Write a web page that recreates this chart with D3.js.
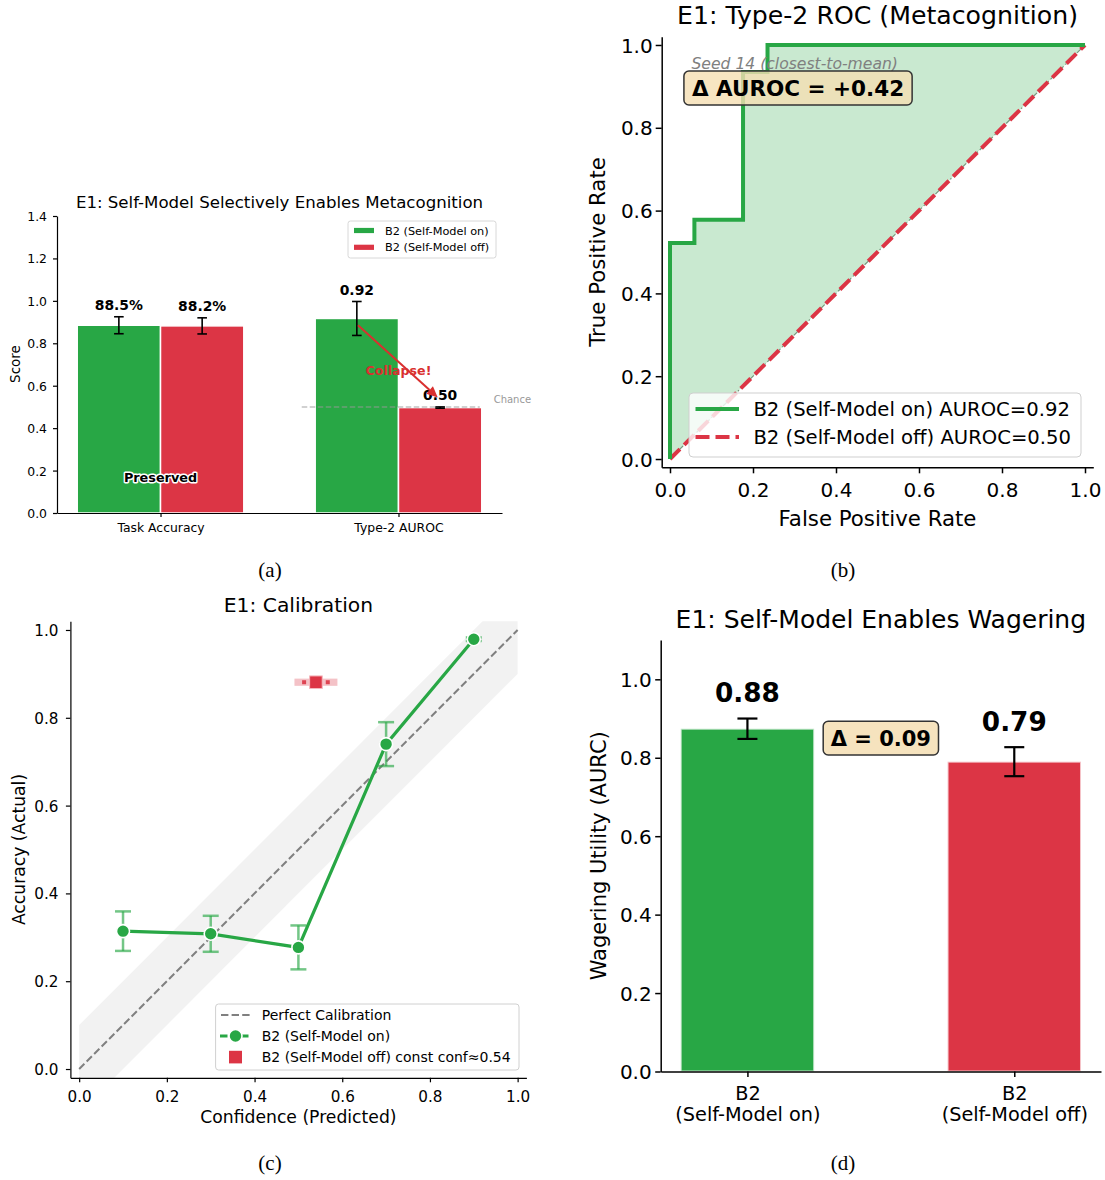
<!DOCTYPE html>
<html><head><meta charset="utf-8">
<script src="https://cdn.jsdelivr.net/npm/d3@7/dist/d3.min.js"></script>
<style>body{margin:0;background:#fff}svg{display:block}</style>
</head><body>
<svg id="fig" width="1105" height="1180"></svg>
<script>
// ---------------- DATA ----------------
// (a) Task accuracy / Type-2 AUROC
const categoriesA = ["Task Accuracy", "Type-2 AUROC"];
const seriesNames = ["B2 (Self-Model on)", "B2 (Self-Model off)"];
const valuesOnA  = [0.885, 0.917];
const errorsOnA  = [0.040, 0.080];
const labelsOnA  = ["88.5%", "0.92"];
const valuesOffA = [0.882, 0.497];
const errorsOffA = [0.038, 0.003];
const labelsOffA = ["88.2%", "0.50"];
const yTicksA = [0, 0.2, 0.4, 0.6, 0.8, 1.0, 1.2, 1.4];
const chanceLevel = 0.5;

// (b) Type-2 ROC
const rocOnFpr  = [0, 0, 0.0588, 0.0588, 0.176, 0.176, 0.235, 0.235, 1.0];
const rocOnTpr  = [0, 0.522, 0.522, 0.578, 0.578, 0.935, 0.935, 1.0, 1.0];
const rocOffFpr = [0, 1];
const rocOffTpr = [0, 1];
const rocLegend = ["B2 (Self-Model on) AUROC=0.92", "B2 (Self-Model off) AUROC=0.50"];
const rocDeltaLabel = "\u0394 AUROC = +0.42";
const ticks01 = [0, 0.2, 0.4, 0.6, 0.8, 1.0];

// (c) Calibration
const calConf = [0.1, 0.3, 0.5, 0.7, 0.9];
const calAcc  = [0.314, 0.308, 0.277, 0.740, 0.979];
const calErr  = [0.045, 0.041, 0.050, 0.050, 0.004];
const offConf = [0.54];
const offAcc  = [0.881];
const offConfErr = [0.049];
const calBand = 0.1;
const calLegend = ["Perfect Calibration", "B2 (Self-Model on)", "B2 (Self-Model off) const conf\u22480.54"];

// (d) Wagering
const categoriesD = [["B2", "(Self-Model on)"], ["B2", "(Self-Model off)"]];
const valuesD = [0.874, 0.790];
const errorsD = [0.026, 0.037];
const labelsD = ["0.88", "0.79"];
const deltaLabelD = "\u0394 = 0.09";
const yTicksD = [0, 0.2, 0.4, 0.6, 0.8, 1.0];

// ---------------- HELPERS ----------------
const GREEN = "#28a745", RED = "#dc3545";
const FONT = "'DejaVu Sans', sans-serif";
const svg = d3.select("#fig");

function addText(g, o) {
  const t = g.append("text")
    .attr("x", o.x).attr("y", o.y)
    .attr("font-family", o.family || FONT)
    .attr("font-size", o.fs)
    .attr("text-anchor", o.anchor || "middle")
    .attr("fill", o.fill || "#000")
    .text(o.text);
  if (o.weight) t.attr("font-weight", o.weight);
  if (o.style) t.attr("font-style", o.style);
  if (o.rotate) t.attr("transform", `rotate(-90 ${o.x} ${o.y})`);
  return t;
}
function styleAxis(sel, fs, lw) {
  sel.attr("font-family", FONT).attr("font-size", fs);
  sel.select(".domain").attr("stroke", "#000").attr("stroke-width", lw);
  sel.selectAll(".tick line").attr("stroke", "#000").attr("stroke-width", lw);
  sel.selectAll(".tick text").attr("fill", "#000");
}
function yAxis(g, scale, x0, ticks, fs, ts, gap, lw) {
  const a = g.append("g").attr("transform", `translate(${x0},0)`)
    .call(d3.axisLeft(scale).tickValues(ticks).tickFormat(d3.format(".1f"))
      .tickSize(ts).tickPadding(gap - ts).tickSizeOuter(0));
  styleAxis(a, fs, lw);
  a.selectAll(".tick text").attr("dy", "0.36em");
  return a;
}
function xAxis(g, scale, y0, ticks, fmt, fs, ts, base, lw) {
  const a = g.append("g").attr("transform", `translate(0,${y0})`)
    .call(d3.axisBottom(scale).tickValues(ticks).tickFormat(fmt).tickSize(ts).tickSizeOuter(0));
  styleAxis(a, fs, lw);
  a.selectAll(".tick text").attr("y", base).attr("dy", 0);
  return a;
}
function errV(g, x, y0, y1, cap, color, lw, op) {
  const e = g.append("g").attr("stroke", color).attr("stroke-width", lw).attr("stroke-opacity", op == null ? 1 : op);
  e.append("line").attr("x1", x).attr("x2", x).attr("y1", y0).attr("y2", y1);
  e.append("line").attr("x1", x - cap).attr("x2", x + cap).attr("y1", y0).attr("y2", y0);
  e.append("line").attr("x1", x - cap).attr("x2", x + cap).attr("y1", y1).attr("y2", y1);
}
function fracScale(s) { return d3.scaleLinear().domain([0, 1]).range(s.range()); }

// ---------------- PANEL (a) ----------------
{
  const g = svg.append("g");
  const x = d3.scaleLinear().domain([-0.435, 1.435]).range([57, 502]);
  const y = d3.scaleLinear().domain([0, 1.4]).range([513, 216]);
  const fx = fracScale(x);
  const bw = 0.35;
  const ser = [
    {vals: valuesOnA, errs: errorsOnA, labs: labelsOnA, color: GREEN, off: -bw / 2},
    {vals: valuesOffA, errs: errorsOffA, labs: labelsOffA, color: RED, off: bw / 2}
  ];
  ser.forEach(s => {
    g.selectAll(null).data(s.vals).join("rect")
      .attr("x", (d, i) => x(i + s.off - bw / 2))
      .attr("width", x(bw) - x(0))
      .attr("y", d => y(d)).attr("height", d => y(0) - y(d))
      .attr("fill", s.color).attr("stroke", "#fff").attr("stroke-width", 1.5);
  });
  // chance line
  g.append("line").attr("x1", fx(0.55)).attr("x2", fx(0.95))
    .attr("y1", y(chanceLevel)).attr("y2", y(chanceLevel))
    .attr("stroke", "#9a9a9a").attr("stroke-opacity", 0.6).attr("stroke-width", 1.5).attr("stroke-dasharray", "5.5,2.5");
  addText(g, {x: x(1.4), y: y(0.536) + 3.6, text: "Chance", fs: 10, anchor: "start", fill: "#999"});
  ser.forEach(s => {
    s.vals.forEach((v, i) => {
      errV(g, x(i + s.off), y(v + s.errs[i]), y(v - s.errs[i]), 4.8, "#000", 1.6);
      addText(g, {x: x(i + s.off), y: y(v + s.errs[i] + 0.031), text: s.labs[i], fs: 13.9, weight: "bold"});
    });
  });
  // axes
  yAxis(g, y, 57, yTicksA, 12.4, 4, 10, 1.2);
  xAxis(g, x, 513, [0, 1], (d, i) => categoriesA[i], 12.4, 4, 18.5, 1.2);
  addText(g, {x: 20, y: 364, text: "Score", fs: 13.5, rotate: true});
  addText(g, {x: fx(0.5), y: 208, text: "E1: Self-Model Selectively Enables Metacognition", fs: 16.6});
  // annotations
  addText(g, {x: x(0), y: y(0.17) + 4.6, text: "Preserved", fs: 12.8, weight: "bold"})
    .attr("stroke", "#fff").attr("stroke-width", 3).attr("paint-order", "stroke").attr("stroke-linejoin", "round");
  addText(g, {x: x(1.0), y: y(0.671) + 4.5, text: "Collapse!", fs: 12.6, weight: "bold", fill: "#d9302f"});
  {
    const x1 = x(0.83), y1 = y(0.885), x2 = x(1.165), y2 = y(0.545);
    const ang = Math.atan2(y2 - y1, x2 - x1), L = 11, W = 5;
    const bx = x2 - L * Math.cos(ang), by = y2 - L * Math.sin(ang);
    g.append("line").attr("x1", x1).attr("y1", y1).attr("x2", bx).attr("y2", by)
      .attr("stroke", "#d9302f").attr("stroke-width", 2);
    g.append("path").attr("d", `M${x2},${y2}L${bx + W * Math.sin(ang)},${by - W * Math.cos(ang)}L${bx - W * Math.sin(ang)},${by + W * Math.cos(ang)}Z`)
      .attr("fill", "#d9302f");
  }
  // legend
  const lg = g.append("g");
  lg.append("rect").attr("x", 348).attr("y", 221).attr("width", 148).attr("height", 37).attr("rx", 2.5)
    .attr("fill", "#fff").attr("stroke", "#d8d8d8");
  [GREEN, RED].forEach((c, i) => {
    const cy = 230.5 + i * 16.8;
    lg.append("rect").attr("x", 354).attr("y", cy - 2.6).attr("width", 20).attr("height", 5.2).attr("fill", c);
    addText(lg, {x: 385, y: cy + 4, text: seriesNames[i], fs: 11.3, anchor: "start"});
  });
  addText(g, {x: 270, y: 577, text: "(a)", fs: 21, family: "'Liberation Serif', serif"});
}

// ---------------- PANEL (b) ----------------
{
  const g = svg.append("g");
  const x = d3.scaleLinear().domain([-0.02, 1.02]).range([661.7, 1093.3]);
  const y = d3.scaleLinear().domain([-0.02, 1.02]).range([467.3, 36.7]);
  const fx = fracScale(x), fy = fracScale(y);
  const onPts = rocOnFpr.map((f, i) => [x(f), y(rocOnTpr[i])]);
  const offPts = rocOffFpr.map((f, i) => [x(f), y(rocOffTpr[i])]);
  const line = d3.line();
  // fill between curve and diagonal
  g.append("path").attr("d", line(onPts.concat(offPts.slice().reverse())) + "Z")
    .attr("fill", GREEN).attr("fill-opacity", 0.25);
  g.append("path").attr("d", line(offPts)).attr("fill", "none")
    .attr("stroke", "#2f5f3a").attr("stroke-opacity", 0.6).attr("stroke-width", 1.2).attr("stroke-dasharray", "6,2.5,1.5,2.5");
  g.append("path").attr("d", line(offPts)).attr("fill", "none")
    .attr("stroke", RED).attr("stroke-width", 4).attr("stroke-dasharray", "14,6");
  g.append("path").attr("d", line(onPts)).attr("fill", "none")
    .attr("stroke", GREEN).attr("stroke-width", 4).attr("stroke-linejoin", "miter");
  yAxis(g, y, 661.7, ticks01, 20, 6, 9, 1.5);
  xAxis(g, x, 467.3, ticks01, d3.format(".1f"), 20, 6, 30, 1.5);
  addText(g, {x: 605, y: (y.range()[0] + y.range()[1]) / 2, text: "True Positive Rate", fs: 21.3, rotate: true});
  addText(g, {x: fx(0.5), y: 526, text: "False Positive Rate", fs: 21.3});
  addText(g, {x: fx(0.5), y: 24.4, text: "E1: Type-2 ROC (Metacognition)", fs: 25.2});
  addText(g, {x: fx(0.069), y: 68.6, text: "Seed 14 (closest-to-mean)", fs: 15.6, anchor: "start", style: "italic", fill: "#808080"});
  const bx = g.append("g");
  const rect = bx.append("rect");
  const t = addText(bx, {x: fx(0.07), y: 88 + 7.8, text: rocDeltaLabel, fs: 21.5, weight: "bold", anchor: "start"});
  const bb = t.node().getBBox();
  rect.attr("x", bb.x - 8).attr("y", 71).attr("width", bb.width + 16).attr("height", 34).attr("rx", 5)
    .attr("fill", "#f5deb3").attr("fill-opacity", 0.8).attr("stroke", "#333").attr("stroke-width", 1.5);
  // legend
  const lg = g.append("g");
  lg.append("rect").attr("x", 689).attr("y", 393).attr("width", 392).attr("height", 64).attr("rx", 4)
    .attr("fill", "#fff").attr("fill-opacity", 0.8).attr("stroke", "#cfcfcf");
  lg.append("line").attr("x1", 695.5).attr("x2", 739).attr("y1", 409).attr("y2", 409).attr("stroke", GREEN).attr("stroke-width", 4);
  lg.append("line").attr("x1", 695.5).attr("x2", 739).attr("y1", 437).attr("y2", 437).attr("stroke", RED).attr("stroke-width", 4).attr("stroke-dasharray", "14,6");
  rocLegend.forEach((s, i) => addText(lg, {x: 753.4, y: 409 + i * 28 + 7, text: s, fs: 19.6, anchor: "start"}));
  addText(g, {x: 843, y: 577, text: "(b)", fs: 21, family: "'Liberation Serif', serif"});
}

// ---------------- PANEL (c) ----------------
{
  const g = svg.append("g");
  const x = d3.scaleLinear().domain([-0.02, 1.02]).range([70.4, 526.4]);
  const y = d3.scaleLinear().domain([-0.02, 1.02]).range([1077.8, 621.2]);
  const fx = fracScale(x);
  svg.append("defs").append("clipPath").attr("id", "clipC").append("rect")
    .attr("x", 70.4).attr("y", 621.2).attr("width", 456).attr("height", 456.6);
  const pg = g.append("g").attr("clip-path", "url(#clipC)");
  const bandPts = [[0, -calBand], [1, 1 - calBand], [1, 1 + calBand], [0, calBand]].map(p => [x(p[0]), y(p[1])]);
  pg.append("path").attr("d", d3.line()(bandPts) + "Z").attr("fill", "#808080").attr("fill-opacity", 0.1);
  pg.append("line").attr("x1", x(0)).attr("y1", y(0)).attr("x2", x(1)).attr("y2", y(1))
    .attr("stroke", "#808080").attr("stroke-width", 2).attr("stroke-dasharray", "7.4,3.2");
  // off point
  offConf.forEach((c, i) => {
    g.append("rect").attr("x", x(c - offConfErr[i])).attr("width", x(offConfErr[i] * 2) - x(0))
      .attr("y", y(offAcc[i]) - 3.6).attr("height", 7.2).attr("fill", RED).attr("fill-opacity", 0.3);
    [-0.027, 0.027].forEach(o => g.append("rect").attr("x", x(c + o) - 2).attr("y", y(offAcc[i]) - 2)
      .attr("width", 4).attr("height", 4).attr("fill", RED).attr("fill-opacity", 0.9));
    g.append("rect").attr("x", x(c) - 6.3).attr("y", y(offAcc[i]) - 6.3).attr("width", 12.6).attr("height", 12.6)
      .attr("fill", RED).attr("stroke", "#f5b8be").attr("stroke-width", 1);
  });
  calConf.forEach((c, i) => errV(g, x(c), y(calAcc[i] + calErr[i]), y(calAcc[i] - calErr[i]), 8, GREEN, 2.5, 0.65));
  g.append("path").attr("d", d3.line()(calConf.map((c, i) => [x(c), y(calAcc[i])])))
    .attr("fill", "none").attr("stroke", GREEN).attr("stroke-width", 3.2);
  g.selectAll(null).data(calConf).join("circle")
    .attr("cx", d => x(d)).attr("cy", (d, i) => y(calAcc[i])).attr("r", 6.5)
    .attr("fill", GREEN).attr("stroke", "#fff").attr("stroke-width", 1.6);
  yAxis(g, y, 70.4, ticks01, 15.2, 4.5, 12, 1.2);
  xAxis(g, x, 1077.8, ticks01, d3.format(".1f"), 15.2, 4.5, 24, 1.2);
  addText(g, {x: 25, y: 849.5, text: "Accuracy (Actual)", fs: 17.2, rotate: true});
  addText(g, {x: fx(0.5), y: 1123, text: "Confidence (Predicted)", fs: 17.2});
  addText(g, {x: fx(0.5), y: 612.3, text: "E1: Calibration", fs: 20.3});
  // legend
  const lg = g.append("g");
  lg.append("rect").attr("x", 215.6).attr("y", 1004).attr("width", 303.4).attr("height", 66).attr("rx", 3)
    .attr("fill", "#fff").attr("fill-opacity", 0.85).attr("stroke", "#d0d0d0");
  lg.append("line").attr("x1", 221).attr("x2", 251).attr("y1", 1015).attr("y2", 1015)
    .attr("stroke", "#808080").attr("stroke-width", 2).attr("stroke-dasharray", "7.4,3.2");
  lg.append("line").attr("x1", 220).attr("x2", 251).attr("y1", 1036).attr("y2", 1036)
    .attr("stroke", GREEN).attr("stroke-width", 3.2).attr("stroke-dasharray", "7.5,3");
  lg.append("circle").attr("cx", 235.5).attr("cy", 1036).attr("r", 6.5).attr("fill", GREEN).attr("stroke", "#fff").attr("stroke-width", 1.6);
  lg.append("rect").attr("x", 229).attr("y", 1050.8).attr("width", 13).attr("height", 12.6).attr("fill", RED);
  calLegend.forEach((s, i) => addText(lg, {x: 261.7, y: 1015 + i * 21 + 5, text: s, fs: 14, anchor: "start"}));
  addText(g, {x: 270, y: 1170, text: "(c)", fs: 21, family: "'Liberation Serif', serif"});
}

// ---------------- PANEL (d) ----------------
{
  const g = svg.append("g");
  const x = d3.scaleLinear().domain([-0.325, 1.325]).range([660.7, 1101]);
  const y = d3.scaleLinear().domain([0, 1.1]).range([1071.5, 640.1]);
  const fx = fracScale(x);
  const bw = 0.5, colors = [GREEN, RED];
  g.selectAll(null).data(valuesD).join("rect")
    .attr("x", (d, i) => x(i - bw / 2)).attr("width", x(bw) - x(0))
    .attr("y", d => y(d)).attr("height", d => y(0) - y(d))
    .attr("fill", (d, i) => colors[i]).attr("stroke", "#fff").attr("stroke-opacity", 0.7).attr("stroke-width", 2);
  valuesD.forEach((v, i) => {
    errV(g, x(i), y(v + errorsD[i]), y(v - errorsD[i]), 10, "#000", 2.2);
    addText(g, {x: x(i), y: y(v + errorsD[i] + 0.042), text: labelsD[i], fs: 26.3, weight: "bold"});
  });
  yAxis(g, y, 660.7, yTicksD, 20, 5.5, 9, 1.5);
  const xa = xAxis(g, x, 1071.5, [0, 1], () => "", 19.3, 5.5, 28, 1.5);
  xa.selectAll(".tick text").each(function (d, i) {
    const t = d3.select(this);
    categoriesD[i].forEach((s, k) => t.append("tspan").attr("x", 0).attr("y", 28 + k * 21).text(s));
  });
  addText(g, {x: 606, y: 855.8, text: "Wagering Utility (AURC)", fs: 21, rotate: true});
  addText(g, {x: fx(0.5), y: 628.3, text: "E1: Self-Model Enables Wagering", fs: 25});
  const bx = g.append("g");
  const rect = bx.append("rect");
  const t = addText(bx, {x: x(0.5), y: y(0.85) + 7.6, text: deltaLabelD, fs: 21, weight: "bold"});
  const bb = t.node().getBBox();
  rect.attr("x", bb.x - 7.5).attr("y", y(0.85) - 16.8).attr("width", bb.width + 15).attr("height", 33.6).attr("rx", 5)
    .attr("fill", "#f5deb3").attr("fill-opacity", 0.85).attr("stroke", "#333").attr("stroke-width", 1.5);
  addText(g, {x: 843, y: 1170, text: "(d)", fs: 21, family: "'Liberation Serif', serif"});
}
</script>
</body></html>
